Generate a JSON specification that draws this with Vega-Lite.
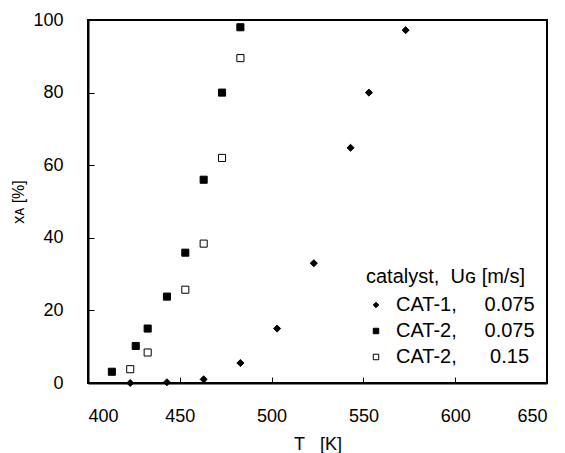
{
  "$schema": "https://vega.github.io/schema/vega-lite/v6.json",
  "width": 459,
  "height": 363,
  "autosize": {"type": "none"},
  "padding": {"left": 88, "top": 20, "right": 18, "bottom": 70},
  "background": "white",
  "config": {
    "font": "Liberation Sans",
    "view": {"stroke": "black", "strokeWidth": 2},
    "axis": {
      "grid": false,
      "domainColor": "black",
      "domainWidth": 2,
      "tickColor": "black",
      "tickWidth": 1,
      "tickSize": -6,
      "labelColor": "black",
      "labelFontSize": 18,
      "labelFont": "Liberation Sans",
      "titleColor": "black",
      "titleFontWeight": "normal",
      "titleFont": "Liberation Sans"
    },
    "legend": {
      "titleFontSize": 20,
      "titleFontWeight": "normal",
      "titleColor": "black",
      "labelFontSize": 20,
      "labelColor": "black",
      "padding": 0,
      "rowPadding": 6,
      "titlePadding": 8,
      "labelOffset": 10,
      "symbolSize": 30,
      "symbolStrokeWidth": 1
    }
  },
  "data": {
    "values": [
      {"T": 423, "X": 0.0, "s": "CAT-1,\u00a0\u00a0\u00a0\u00a0\u00a00.075"},
      {"T": 443, "X": 0.2, "s": "CAT-1,\u00a0\u00a0\u00a0\u00a0\u00a00.075"},
      {"T": 463, "X": 1.0, "s": "CAT-1,\u00a0\u00a0\u00a0\u00a0\u00a00.075"},
      {"T": 483, "X": 5.5, "s": "CAT-1,\u00a0\u00a0\u00a0\u00a0\u00a00.075"},
      {"T": 503, "X": 15.0, "s": "CAT-1,\u00a0\u00a0\u00a0\u00a0\u00a00.075"},
      {"T": 523, "X": 33.0, "s": "CAT-1,\u00a0\u00a0\u00a0\u00a0\u00a00.075"},
      {"T": 543, "X": 64.8, "s": "CAT-1,\u00a0\u00a0\u00a0\u00a0\u00a00.075"},
      {"T": 553, "X": 80.0, "s": "CAT-1,\u00a0\u00a0\u00a0\u00a0\u00a00.075"},
      {"T": 573, "X": 97.2, "s": "CAT-1,\u00a0\u00a0\u00a0\u00a0\u00a00.075"},
      {"T": 413, "X": 3.1, "s": "CAT-2,\u00a0\u00a0\u00a0\u00a0\u00a00.075"},
      {"T": 426, "X": 10.2, "s": "CAT-2,\u00a0\u00a0\u00a0\u00a0\u00a00.075"},
      {"T": 432.5, "X": 15.0, "s": "CAT-2,\u00a0\u00a0\u00a0\u00a0\u00a00.075"},
      {"T": 443, "X": 23.8, "s": "CAT-2,\u00a0\u00a0\u00a0\u00a0\u00a00.075"},
      {"T": 453, "X": 35.9, "s": "CAT-2,\u00a0\u00a0\u00a0\u00a0\u00a00.075"},
      {"T": 463, "X": 56.0, "s": "CAT-2,\u00a0\u00a0\u00a0\u00a0\u00a00.075"},
      {"T": 473, "X": 80.0, "s": "CAT-2,\u00a0\u00a0\u00a0\u00a0\u00a00.075"},
      {"T": 483, "X": 98.0, "s": "CAT-2,\u00a0\u00a0\u00a0\u00a0\u00a00.075"},
      {"T": 423, "X": 3.8, "s": "CAT-2,\u00a0\u00a0\u00a0\u00a0\u00a0\u00a00.15"},
      {"T": 432.5, "X": 8.4, "s": "CAT-2,\u00a0\u00a0\u00a0\u00a0\u00a0\u00a00.15"},
      {"T": 453, "X": 25.7, "s": "CAT-2,\u00a0\u00a0\u00a0\u00a0\u00a0\u00a00.15"},
      {"T": 463, "X": 38.4, "s": "CAT-2,\u00a0\u00a0\u00a0\u00a0\u00a0\u00a00.15"},
      {"T": 473, "X": 62.0, "s": "CAT-2,\u00a0\u00a0\u00a0\u00a0\u00a0\u00a00.15"},
      {"T": 483, "X": 89.5, "s": "CAT-2,\u00a0\u00a0\u00a0\u00a0\u00a0\u00a00.15"}
    ]
  },
  "mark": {"type": "point", "size": 50, "opacity": 1, "strokeWidth": 1},
  "encoding": {
    "x": {
      "field": "T",
      "type": "quantitative",
      "scale": {"domain": [400, 650], "nice": false, "zero": false},
      "axis": {"values": [400, 450, 500, 550, 600, 650], "title": "T\u00a0\u00a0\u00a0[K]", "titleFontSize": 18, "labelPadding": 30, "titlePadding": 10}
    },
    "y": {
      "field": "X",
      "type": "quantitative",
      "scale": {"domain": [0, 100], "nice": false},
      "axis": {"values": [0, 20, 40, 60, 80, 100], "title": "xᴀ [%]", "titleFontSize": 16, "labelPadding": 31, "titlePadding": 6}
    },
    "shape": {
      "field": "s",
      "type": "nominal",
      "scale": {
        "domain": ["CAT-1,\u00a0\u00a0\u00a0\u00a0\u00a00.075", "CAT-2,\u00a0\u00a0\u00a0\u00a0\u00a00.075", "CAT-2,\u00a0\u00a0\u00a0\u00a0\u00a0\u00a00.15"],
        "range": ["diamond", "square", "square"]
      },
      "legend": {
        "title": "\u00a0catalyst,\u00a0\u00a0Uɢ [m/s]",
        "orient": "none",
        "legendX": 278,
        "legendY": 247
      }
    },
    "fill": {
      "field": "s",
      "type": "nominal",
      "scale": {
        "domain": ["CAT-1,\u00a0\u00a0\u00a0\u00a0\u00a00.075", "CAT-2,\u00a0\u00a0\u00a0\u00a0\u00a00.075", "CAT-2,\u00a0\u00a0\u00a0\u00a0\u00a0\u00a00.15"],
        "range": ["black", "black", "white"]
      },
      "legend": {"title": "\u00a0catalyst,\u00a0\u00a0Uɢ [m/s]", "orient": "none", "legendX": 278, "legendY": 247}
    },
    "stroke": {
      "field": "s",
      "type": "nominal",
      "scale": {
        "domain": ["CAT-1,\u00a0\u00a0\u00a0\u00a0\u00a00.075", "CAT-2,\u00a0\u00a0\u00a0\u00a0\u00a00.075", "CAT-2,\u00a0\u00a0\u00a0\u00a0\u00a0\u00a00.15"],
        "range": ["black", "black", "black"]
      },
      "legend": {"title": "\u00a0catalyst,\u00a0\u00a0Uɢ [m/s]", "orient": "none", "legendX": 278, "legendY": 247}
    }
  }
}
